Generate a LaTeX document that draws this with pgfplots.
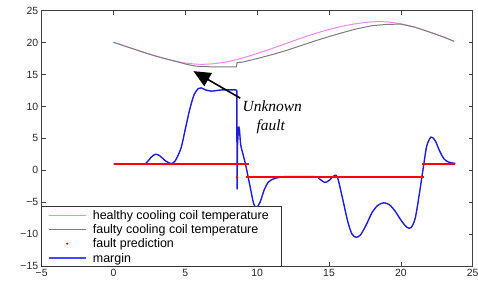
\documentclass[border=0pt]{standalone}
\usepackage{pgfplots}
\pgfplotsset{compat=1.18}
\usepackage{fontspec}
\setmainfont{Liberation Sans}
\newfontfamily\timesfont{Liberation Serif}
\usetikzlibrary{arrows.meta}
\definecolor{pinkc}{RGB}{238,135,238}
\definecolor{grayc}{RGB}{125,125,125}
\definecolor{marginblue}{RGB}{30,30,215}
\definecolor{legblue}{RGB}{70,70,250}
\begin{document}
\begin{tikzpicture}
\useasboundingbox (-41.7bp,-18bp) rectangle (436.3bp,266bp);
\begin{axis}[
  scale only axis, width=431bp, height=255.3bp,
  at={(0,0)}, anchor=south west,
  xmin=-5, xmax=25, ymin=-15, ymax=25,
  xtick={-5,0,...,25}, ytick={-15,-10,...,25},
  xticklabels={−5,0,5,10,15,20,25},
  yticklabels={−15,−10,−5,0,5,10,15,20,25},
  tick align=inside, xtick pos=both, ytick pos=both,
  xticklabel pos=lower, yticklabel pos=left,
  major tick length=4bp,
  axis line style={black!75, line width=0.6bp},
  tick style={black!75, line width=0.6bp},
  ticklabel style={font=\fontsize{10.5}{12}\selectfont, text=black!85},
]
% healthy cooling coil temperature
\addplot[pinkc, line width=1bp, smooth] coordinates {
(0,20.05)(1,19.3)(2,18.55)(3,17.85)(4,17.25)(5,16.8)(6,16.6)(7,16.7)(8,17.05)
(9,17.6)(10,18.3)(11,19.05)(12,19.85)(13,20.65)(14,21.4)(15,22.05)(16,22.6)
(17,23.0)(18,23.25)(19,23.25)(20,22.95)(21,22.4)(22,21.65)(23,20.85)(23.7,20.2)};
% faulty cooling coil temperature
\addplot[grayc, line width=1bp] coordinates {
(0,20.05)(1,19.3)(2,18.55)(3,17.85)(4,17.25)(4.5,16.95)(5,16.65)(5.5,16.4)(6,16.25)
(7,16.2)(8,16.2)(8.55,16.2)(8.6,16.85)(9,16.95)(10,17.5)(11,18.1)(12,18.75)
(13,19.5)(14,20.25)(15,20.95)(16,21.6)(17,22.2)(18,22.65)(19,22.85)(20,22.9)
(21,22.4)(22,21.65)(23,20.85)(23.7,20.2)};
% margin
\addplot[marginblue, line width=1.4bp, smooth, tension=0.5] coordinates {
(0,1)(2,1)(2.3,1.2)(2.6,2.0)(2.9,2.5)(3.2,2.3)(3.6,1.5)(4.0,1.05)(4.3,1.5)
(4.7,3.5)(5.0,6.5)(5.3,9.5)(5.6,11.8)(5.9,12.8)(6.1,12.9)(6.4,12.6)(6.8,12.4)
(7.2,12.5)(7.6,12.6)(8.0,12.6)(8.5,12.6)(8.58,12.5)};
\addplot[marginblue, line width=1.4bp] coordinates {
(8.58,12.5)(8.6,-3.0)(8.63,4)(8.7,6.8)};
\addplot[marginblue, line width=1.4bp, smooth, tension=0.5] coordinates {
(8.7,6.8)(8.76,6.5)(8.85,4.0)(9.0,2.6)(9.2,0.8)(9.5,-2.5)(9.75,-5.2)(9.95,-5.8)(10.2,-5.0)
(10.5,-3.0)(10.8,-1.8)(11.2,-1.3)(11.6,-1.1)(12,-1)(14,-1)(14.3,-1.3)(14.7,-1.9)
(15.0,-1.6)(15.4,-0.8)(15.6,-1.2)(15.9,-4)(16.3,-8)(16.6,-10)(16.9,-10.5)
(17.2,-10.1)(17.6,-8.5)(18.0,-6.6)(18.4,-5.5)(18.8,-5.1)(19.2,-5.4)(19.6,-6.4)
(20.0,-7.8)(20.4,-8.9)(20.7,-9.0)(21.0,-7.5)(21.3,-3.5)(21.6,1.0)(21.8,3.8)
(22.1,5.2)(22.4,4.6)(22.7,3.0)(23.0,1.8)(23.3,1.3)(23.8,1.05)};
% fault prediction
\addplot[red, line width=2bp] coordinates {(0,1)(9.4,1)};
\addplot[red, line width=2bp] coordinates {(9.2,-1)(21.6,-1)};
\addplot[red, line width=2bp] coordinates {(21.5,1)(23.8,1)};
\addplot[red, only marks, mark=*, mark size=1.1bp] coordinates {(8.6,-1.1)};
% annotation
\draw[-{Triangle[length=17bp,width=15bp]}, line width=1.6bp] (axis cs:8.82,11.3) -- (axis cs:5.56,15.53);
\node[anchor=base, inner sep=0pt, font=\timesfont\itshape\fontsize{15.5}{18}\selectfont] at (axis cs:11.05,9.25) {Unknown};
\node[anchor=base, inner sep=0pt, font=\timesfont\itshape\fontsize{15.5}{18}\selectfont] at (axis cs:10.95,6.27) {fault};
\end{axis}
% legend (drawn on top of the axis, lower left corner)
\begin{scope}[every node/.style={anchor=base west, inner sep=0pt, font=\fontsize{12.5}{13.5}\selectfont}]
\draw[black!80, line width=0.6bp, fill=white] (0bp,0bp) rectangle (240bp,59.3bp);
\draw[pinkc, line width=1bp] (7bp,50bp) -- (44bp,50bp);
\node at (51bp,46bp) {healthy cooling coil temperature};
\draw[grayc, line width=1.2bp] (7bp,36.3bp) -- (44bp,36.3bp);
\node at (51bp,32.3bp) {faulty cooling coil temperature};
\fill[red] (25.5bp,22.3bp) circle (1.2bp);
\node at (51bp,18.3bp) {fault prediction};
\draw[legblue, line width=1.1bp] (7bp,8bp) -- (44bp,8bp);
\node at (51bp,4bp) {margin};
\end{scope}
\end{tikzpicture}
\end{document}
